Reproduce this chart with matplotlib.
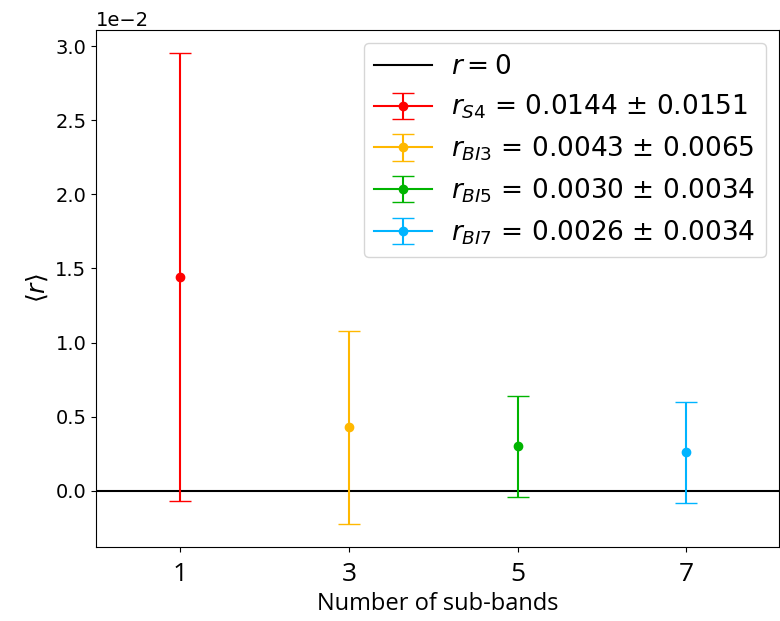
import matplotlib
matplotlib.use("Agg")
import matplotlib.pyplot as plt

n_bands = [1, 3, 5, 7]
r_mean = [0.0144, 0.0043, 0.0030, 0.0026]
r_err = [0.0151, 0.0065, 0.0034, 0.0034]
names = ["S4", "BI3", "BI5", "BI7"]
colors = ["#FF0000", "#FFB800", "#00B400", "#00B4FF"]

fig = plt.figure(figsize=(7.8, 6.21), dpi=100)
ax = fig.add_axes([96/780, 1-547/621, (779-96)/780, (547-30)/621])

ax.axhline(0, color="black", lw=1.5, label=r"$r = 0$")
for x, m, e, nm, c in zip(n_bands, r_mean, r_err, names, colors):
    ax.errorbar(x, m, yerr=e, fmt="-o", color=c, capsize=8, ms=6, lw=1.5,
                label=r"$r_{%s}$ = %.4f $\pm$ %.4f" % (nm, m, e))

ax.set_xlim(0, 8.1)
ax.set_xticks(n_bands)
ax.set_xticklabels([str(v) for v in n_bands], fontsize=19, family=["Open Sans", "DejaVu Sans"])
ax.tick_params(axis="x", pad=7)
ax.ticklabel_format(axis="y", style="sci", scilimits=(-2, -2))
ax.yaxis.get_offset_text().set_fontsize(14)
ax.tick_params(axis="y", labelsize=14)
ax.set_xlabel("Number of sub-bands", fontsize=17, family=["Open Sans", "DejaVu Sans"], labelpad=4)
ax.set_ylabel(r"$\langle r \rangle$", fontsize=18)
ax.legend(loc="upper right", fontsize=19, handlelength=2.2, handletextpad=0.7,
          borderaxespad=0.5)

fig.savefig("out.png", dpi=100)
